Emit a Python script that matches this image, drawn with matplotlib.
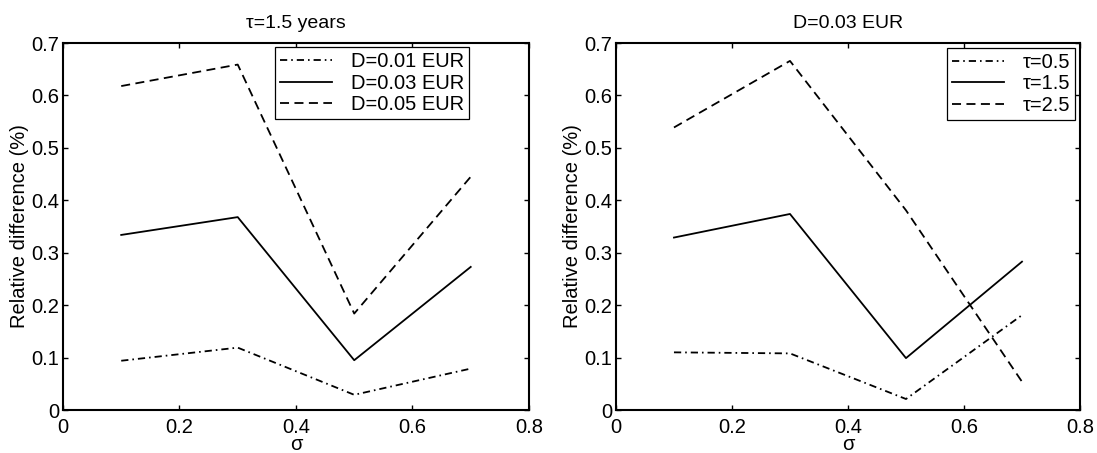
import numpy as np
import matplotlib
matplotlib.use("Agg")
import matplotlib.pyplot as plt

plt.rcParams['font.family'] = ['Liberation Sans', 'DejaVu Sans']

sigma = [0.1, 0.3, 0.5, 0.7]

# left panel, tau = 1.5 years
d001 = [0.094, 0.119, 0.029, 0.079]
d003 = [0.334, 0.368, 0.095, 0.273]
d005 = [0.618, 0.659, 0.184, 0.445]
left_labels = ['D=0.01 EUR', 'D=0.03 EUR', 'D=0.05 EUR']

# right panel, D = 0.03 EUR
t05 = [0.110, 0.108, 0.021, 0.181]
t15 = [0.329, 0.374, 0.099, 0.283]
t25 = [0.539, 0.666, 0.381, 0.054]
right_labels = ['\u03c4=0.5', '\u03c4=1.5', '\u03c4=2.5']

styles = [(0, (4, 2.2, 0.9, 2.2)), '-', (0, (5, 3))]

fig = plt.figure(figsize=(10.97, 4.53), dpi=100)
ax1 = fig.add_axes([0.0574, 0.0949, 0.4248, 0.810])
ax2 = fig.add_axes([0.5615, 0.0949, 0.4230, 0.810])

def setup(ax, title, series, labels, loc, anchor):
    for y, ls, lab in zip(series, styles, labels):
        ax.plot(sigma, y, color='k', linestyle=ls, linewidth=1.3, label=lab)
    ax.set_xlim(0, 0.8)
    ax.set_ylim(0, 0.7)
    ax.set_xticks([0, 0.2, 0.4, 0.6, 0.8])
    ax.set_xticklabels(['0', '0.2', '0.4', '0.6', '0.8'])
    ax.set_yticks(np.arange(0, 0.71, 0.1))
    ax.set_yticklabels(['0', '0.1', '0.2', '0.3', '0.4', '0.5', '0.6', '0.7'])
    ax.tick_params(direction='in', top=True, right=True, labelsize=14.5,
                   length=3.5, width=1)
    ax.tick_params(axis='x', pad=5.5)
    ax.tick_params(axis='y', pad=2.5)
    for s in ax.spines.values():
        s.set_linewidth(1.5)
    ax.set_title(title, fontsize=14, pad=11)
    ax.set_xlabel('\u03c3', fontsize=14.5, labelpad=-1)
    ax.set_ylabel('Relative difference (%)', fontsize=14.5, labelpad=2)
    leg = ax.legend(loc=loc, bbox_to_anchor=anchor, fontsize=14.5, fancybox=False,
                    framealpha=1, edgecolor='k', borderpad=0.25, labelspacing=0.12,
                    handlelength=2.6, handletextpad=0.9, borderaxespad=0)
    leg.get_frame().set_linewidth(0.9)

setup(ax1, '\u03c4=1.5 years', [d001, d003, d005], left_labels,
      'upper left', (0.455, 0.989))
setup(ax2, 'D=0.03 EUR', [t05, t15, t25], right_labels,
      'upper right', (0.989, 0.987))

fig.savefig('out.png', dpi=100)
